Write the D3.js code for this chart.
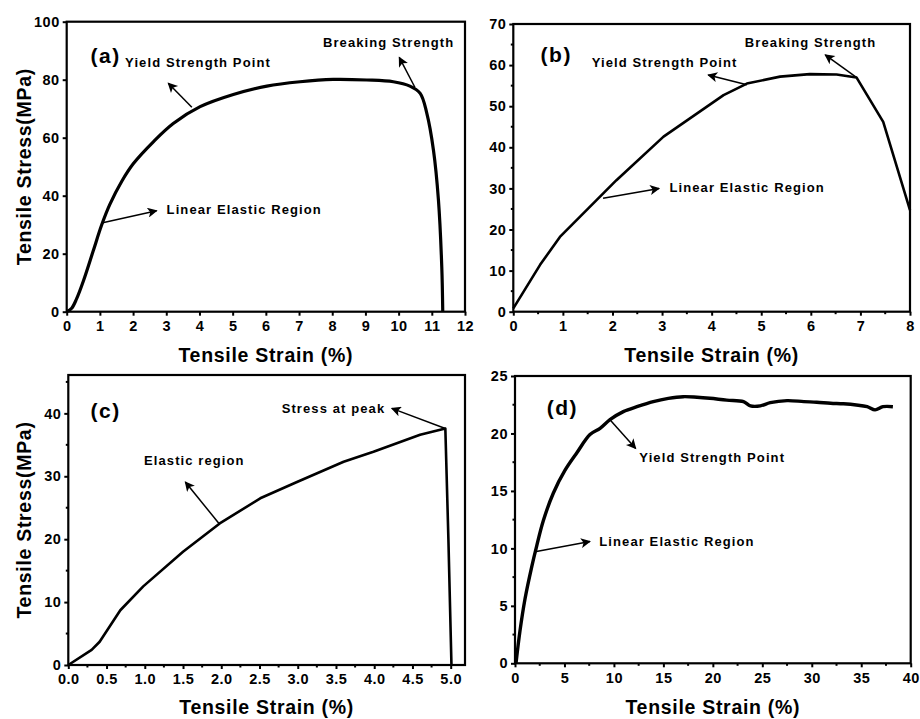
<!DOCTYPE html>
<html><head><meta charset="utf-8">
<script src="https://cdn.jsdelivr.net/npm/d3@7"></script>
<style>
body{margin:0;background:#fff;}
text{font-family:"Liberation Sans",Arial,Helvetica,sans-serif;font-weight:bold;fill:#000;}
</style></head>
<body><svg id="c" width="920" height="719"></svg>
<script>
// ---- data ----
const strainA = [0,0.15,0.3,0.5,0.8,1.05,1.3,1.66,2.01,2.61,3.21,4.02,5.02,6.03,7.03,8.03,9.04,9.84,10.34,10.65,10.85,11.05,11.2,11.3,11.33];
const stressA = [0,1.2,4.5,10.5,21.0,29.8,37.0,45.0,51.1,58.6,64.9,70.7,74.9,77.8,79.3,80.1,79.9,79.3,77.8,75.3,68.4,55.7,38.5,15.5,0];
const strainB = [0,0.54,0.94,2.08,3.03,4.24,4.71,5.38,5.98,6.52,6.92,7.46,8.0];
const stressB = [0.8,11.4,18.2,32,42.6,52.7,55.5,57.2,57.8,57.7,57.0,46.2,24.7];
const strainC = [0,0.305,0.41,0.68,0.98,1.5,1.98,2.51,2.99,3.6,3.99,4.6,4.93,4.97,5.01];
const stressC = [0,2.4,3.7,8.7,12.5,18,22.5,26.5,29.1,32.3,33.9,36.6,37.6,20,0];
const strainD = [0.1,0.5,1.01,1.69,2.19,2.86,3.87,5.06,6.24,7.58,8.6,9.6,10.95,12.4,13.98,15.5,17.0,18.4,19.7,21.4,23.1,23.8,24.8,25.8,27.5,29.2,30.5,31.9,33.2,34.5,35.6,36.4,37.2,38.2];
const stressD = [0,2.8,5.6,8.4,10.2,12.4,14.8,16.8,18.3,19.9,20.45,21.2,21.9,22.35,22.77,23.05,23.2,23.15,23.06,22.9,22.77,22.4,22.4,22.68,22.86,22.77,22.72,22.63,22.58,22.48,22.33,22.05,22.33,22.33];

const ticksXA = [0,1,2,3,4,5,6,7,8,9,10,11,12];
const ticksYA = [0,20,40,60,80,100];
const ticksXB = [0,1,2,3,4,5,6,7,8];
const ticksYB = [0,10,20,30,40,50,60,70];
const ticksXC = [0,0.5,1,1.5,2,2.5,3,3.5,4,4.5,5];
const ticksYC = [0,10,20,30,40];
const ticksXD = [0,5,10,15,20,25,30,35,40];
const ticksYD = [0,5,10,15,20,25];

const panelLabels = ["(a)","(b)","(c)","(d)"];
const xTitle = "Tensile Strain (%)";
const yTitle = "Tensile Stress(MPa)";

// annotations: [text, x, y] in data units; arrows: [x1,y1,x2,y2] tail->head
const notesA = [["Yield Strength Point",1.76,85.9],["Breaking Strength",7.72,92.9],["Linear Elastic Region",3.01,35.1]];
const arrowsA = [[3.77,70.5,3.06,78.8],[10.49,77.4,10.02,87.7],[1.05,30.6,2.71,34.8]];
const notesB = [["Yield Strength Point",1.58,60.7],["Breaking Strength",4.67,65.5],["Linear Elastic Region",3.15,30.3]];
const arrowsB = [[4.71,55.2,3.93,57.6],[6.92,57.0,6.29,62.5],[1.81,27.6,2.94,30.0]];
const notesC = [["Stress at peak",2.79,40.8],["Elastic region",0.99,32.5]];
const arrowsC = [[4.93,37.6,4.23,40.8],[1.97,22.5,1.53,29.1]];
const notesD = [["Yield Strength Point",12.57,17.9],["Linear Elastic Region",8.52,10.6]];
const arrowsD = [[9.6,21.2,12.2,18.7],[2.02,9.7,7.58,10.6]];
const labelPos = [[0.72,88.5],[0.55,62.5],[0.29,40.5],[3.2,22.3]];

// ---- layout ----
const svg = d3.select("#c");
svg.append("rect").attr("width",920).attr("height",719).attr("fill","#fff");

const panels = [
 {l:66.7,r:465,t:21.7,b:311.7,xd:[0,12],yd:[0,100],xs:strainA,ys:stressA,tx:ticksXA,ty:ticksYA,mx:[],my:[],notes:notesA,arrows:arrowsA,fmt:d=>d,yt:true,curve:d3.curveCatmullRom,sw:3.2,xtY:355},
 {l:513.3,r:910,t:24,b:311.7,xd:[0,8],yd:[0,70],xs:strainB,ys:stressB,tx:ticksXB,ty:ticksYB,mx:d3.range(0.5,8,1),my:d3.range(5,70,10),notes:notesB,arrows:arrowsB,fmt:d=>d,yt:false,curve:d3.curveLinear,sw:2.6,xtY:355},
 {l:68.3,r:465,t:375,b:665,xd:[0,5.187],yd:[0,46.1],xs:strainC,ys:stressC,tx:ticksXC,ty:ticksYC,mx:d3.range(0.25,5,0.5),my:[5,15,25,35,45],notes:notesC,arrows:arrowsC,fmt:d3.format(".1f"),yt:true,curve:d3.curveLinear,sw:2.6,xtY:707},
 {l:515,r:910.7,t:376,b:663.3,xd:[0,40],yd:[0,25],xs:strainD,ys:stressD,tx:ticksXD,ty:ticksYD,mx:d3.range(2.5,40,5),my:d3.range(2.5,25,5),notes:notesD,arrows:arrowsD,fmt:d=>d,yt:false,curve:d3.curveCatmullRom,sw:3.4,xtY:707}
];

const defs = svg.append("defs");
defs.append("marker").attr("id","ah").attr("viewBox","0 0 10 10").attr("refX",9).attr("refY",5)
  .attr("markerWidth",13).attr("markerHeight",10).attr("markerUnits","userSpaceOnUse").attr("orient","auto")
  .append("path").attr("d","M0,0 L10,5 L0,10 L2.5,5 Z").attr("fill","#000");

panels.forEach((p,i)=>{
  const x = d3.scaleLinear().domain(p.xd).range([p.l,p.r]);
  const y = d3.scaleLinear().domain(p.yd).range([p.b,p.t]);
  const g = svg.append("g");

  const xa = d3.axisBottom(x).tickValues(p.tx).tickSize(4).tickPadding(5).tickFormat(p.fmt);
  const ya = d3.axisLeft(y).tickValues(p.ty).tickSize(4).tickPadding(3).tickFormat(d=>d);
  const gx = g.append("g").attr("transform",`translate(0,${p.b})`).call(xa);
  const gy = g.append("g").attr("transform",`translate(${p.l},0)`).call(ya);
  [gx,gy].forEach(a=>{
    a.select(".domain").remove();
    a.selectAll(".tick line").attr("stroke","#000").attr("stroke-width",2);
    a.selectAll(".tick text").style("font-size","14.5px").style("font-weight","bold").style("font-family","'Liberation Sans',Arial,sans-serif").attr("fill","#000").style("letter-spacing","0.5px");
  });
  g.selectAll(".mx").data(p.mx).enter().append("line")
    .attr("x1",d=>x(d)).attr("x2",d=>x(d)).attr("y1",p.b).attr("y2",p.b+2.5).attr("stroke","#000").attr("stroke-width",2);
  g.selectAll(".my").data(p.my).enter().append("line")
    .attr("x1",p.l).attr("x2",p.l-2.5).attr("y1",d=>y(d)).attr("y2",d=>y(d)).attr("stroke","#000").attr("stroke-width",2);

  g.append("rect").attr("x",p.l).attr("y",p.t).attr("width",p.r-p.l).attr("height",p.b-p.t)
    .attr("fill","none").attr("stroke","#000").attr("stroke-width",2.2);

  const pts = p.xs.map((v,k)=>[v,p.ys[k]]);
  g.append("path").datum(pts)
    .attr("d",d3.line().x(d=>x(d[0])).y(d=>y(d[1])).curve(p.curve))
    .attr("fill","none").attr("stroke","#000").attr("stroke-width",p.sw).attr("stroke-linejoin","round");

  g.selectAll(".arr").data(p.arrows).enter().append("line")
    .attr("x1",d=>x(d[0])).attr("y1",d=>y(d[1])).attr("x2",d=>x(d[2])).attr("y2",d=>y(d[3]))
    .attr("stroke","#000").attr("stroke-width",1.5).attr("marker-end","url(#ah)");

  g.selectAll(".note").data(p.notes).enter().append("text")
    .attr("x",d=>x(d[1])).attr("y",d=>y(d[2])).attr("dominant-baseline","central")
    .style("font-size","13px").style("letter-spacing","1.1px").text(d=>d[0]);

  g.append("text").attr("x",x(labelPos[i][0])).attr("y",y(labelPos[i][1])).attr("dominant-baseline","central")
    .style("font-size","21px").style("letter-spacing","1.5px").text(panelLabels[i]);

  g.append("text").attr("x",(p.l+p.r)/2).attr("y",p.xtY).attr("text-anchor","middle").attr("dominant-baseline","central")
    .style("font-size","19.5px").style("letter-spacing","0.7px").text(xTitle);
  if(p.yt){
    g.append("text").attr("transform",`translate(24,${(p.t+p.b)/2}) rotate(-90)`).attr("text-anchor","middle").attr("dominant-baseline","central")
      .style("font-size","19.5px").style("letter-spacing","0.7px").text(yTitle);
  }
});
</script></body></html>
